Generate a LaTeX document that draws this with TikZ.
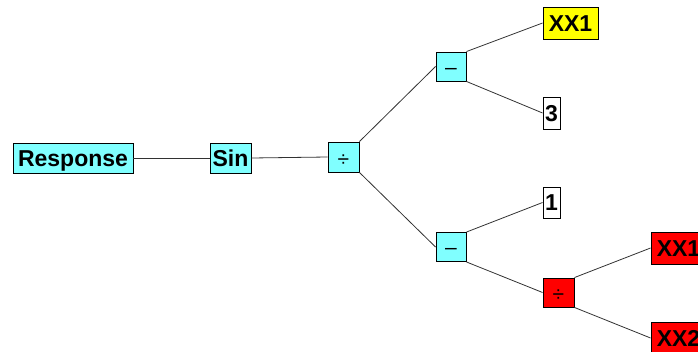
\documentclass[tikz,border=0pt]{standalone}
\usepackage{fontspec}
\setmainfont{Liberation Sans}
\definecolor{boxcyan}{RGB}{128,255,255}
\definecolor{boxyellow}{RGB}{255,255,0}
\definecolor{boxred}{RGB}{255,0,0}
\definecolor{edgegray}{RGB}{50,50,50}
\tikzset{
  basebox/.style={draw=black, line width=0.9pt, inner sep=0pt},
  wordfont/.style={font=\fontsize{23}{23}\selectfont\bfseries, text height=16.5pt, text depth=0pt},
  opfont/.style={font=\fontsize{21}{21}\selectfont, text depth=0pt},
  minusop/.style={opfont, text height=15pt},
  divop/.style={opfont, text height=18pt},
  cyanbox/.style={basebox, fill=boxcyan},
  yellowbox/.style={basebox, fill=boxyellow},
  redbox/.style={basebox, fill=boxred},
  whitebox/.style={basebox, fill=white},
  link/.style={draw=edgegray, line width=0.8pt}
}
\begin{document}
\begin{tikzpicture}[x=1pt, y=-1pt]
\useasboundingbox (0,0) rectangle (698,351);
\clip (0,0) rectangle (698,351);
\node[cyanbox, wordfont, minimum width=120pt, minimum height=30pt] (resp) at (73,158) {Response};
\node[cyanbox, wordfont, minimum width=41pt, minimum height=30pt] (sin) at (230.5,158) {Sin};
\node[cyanbox, divop, minimum width=31pt, minimum height=30pt] (div1) at (343.5,157) {÷};
\node[cyanbox, minusop, minimum width=30pt, minimum height=29pt] (mtop) at (451,66.5) {–};
\node[cyanbox, minusop, minimum width=30pt, minimum height=29pt] (mbot) at (451,247) {–};
\node[yellowbox, wordfont, minimum width=55pt, minimum height=32pt] (xa) at (570.5,23) {XX1};
\node[whitebox, wordfont, minimum width=17pt, minimum height=32pt] (three) at (551.5,113) {3};
\node[whitebox, wordfont, minimum width=17pt, minimum height=31pt] (one) at (551.5,202.5) {1};
\node[redbox, divop, minimum width=31pt, minimum height=29pt] (div2) at (558.5,292.5) {÷};
\node[redbox, wordfont, minimum width=55pt, minimum height=32pt] (xb) at (678.5,248) {XX1};
\node[redbox, wordfont, minimum width=55pt, minimum height=32pt] (xc) at (678.5,338) {XX2};
\draw[link] (resp.east) -- (sin.west);
\draw[link] (sin.east) -- (div1.west);
\draw[link] (div1.north east) -- (mtop.west);
\draw[link] (div1.south east) -- (mbot.west);
\draw[link] (mtop.north east) -- (xa.west);
\draw[link] (mtop.south east) -- (three.west);
\draw[link] (mbot.north east) -- (one.west);
\draw[link] (mbot.south east) -- (div2.west);
\draw[link] (div2.north east) -- (xb.west);
\draw[link] (div2.south east) -- (xc.west);
\end{tikzpicture}
\end{document}
